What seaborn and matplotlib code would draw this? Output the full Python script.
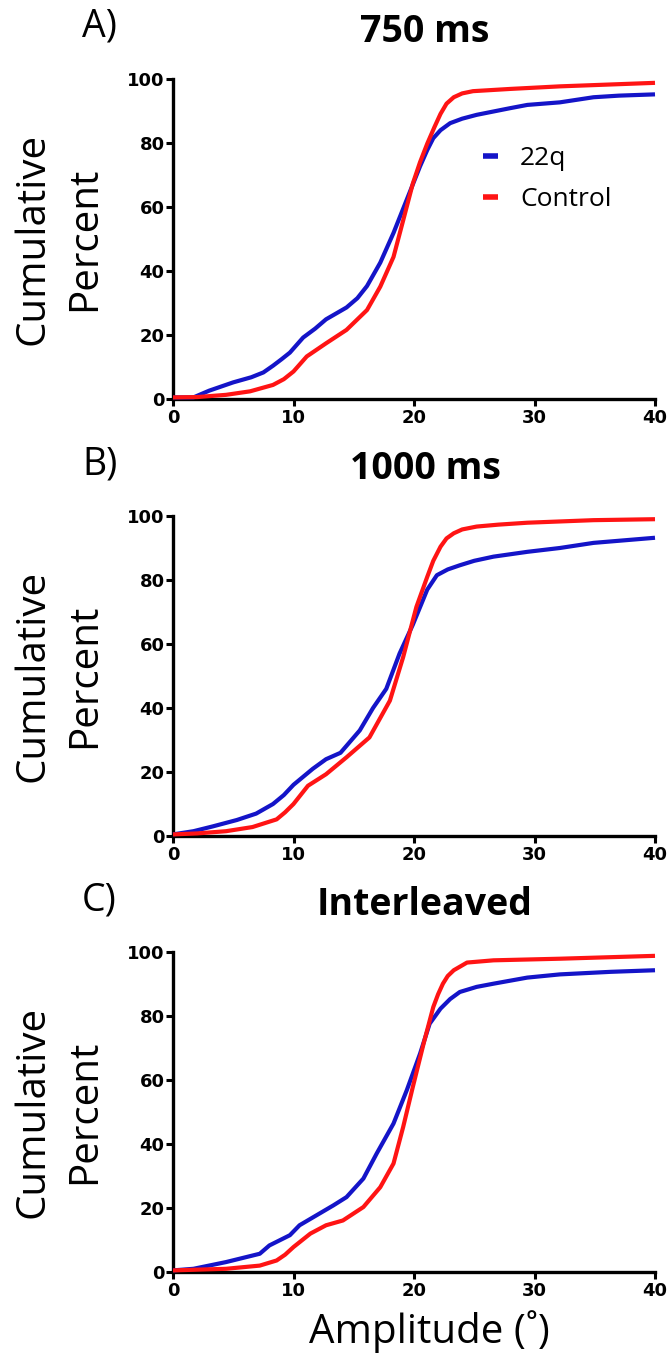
import numpy as np
import pandas as pd
import matplotlib
matplotlib.use("Agg")
import matplotlib.pyplot as plt
import seaborn as sns

# Cumulative distributions of saccade amplitude, one panel per condition
panel_titles = ["750 ms", "1000 ms", "Interleaved"]
panel_letters = ["A)", "B)", "C)"]
groups = ["22q", "Control"]

# 750 ms
a_22q_x = [0, 1.7, 3.0, 5.0, 6.5, 7.5, 8.3, 9.0, 9.7, 10.8, 11.8, 12.7, 14.4, 15.3, 16.1, 17.2,
           18.3, 19.4, 20.5, 21.1, 21.6, 22.2, 23.0, 24.0, 25.2, 28.0, 29.4, 32.1, 34.9, 37.0, 40.0]
a_22q_y = [0.5, 0.5, 2.6, 5.2, 6.8, 8.3, 10.4, 12.4, 14.5, 19.2, 22.0, 24.9, 28.6, 31.5, 35.3, 42.6,
           51.9, 62.3, 72.7, 77.8, 81.5, 84.0, 86.2, 87.6, 88.8, 90.9, 91.9, 92.7, 94.3, 94.8, 95.2]
a_ctl_x = [0, 2.0, 4.4, 6.4, 8.3, 9.2, 10.0, 11.1, 12.7, 14.4, 16.1, 17.2, 18.3, 19.1, 19.9,
           20.5, 21.1, 21.7, 22.2, 22.7, 23.3, 24.0, 24.9, 28.0, 32.1, 40.0]
a_ctl_y = [0.5, 0.6, 1.3, 2.4, 4.4, 6.2, 8.6, 13.3, 17.4, 21.6, 27.8, 35.1, 44.4, 55.8, 67.3,
           74.0, 79.8, 85.0, 89.1, 92.3, 94.3, 95.5, 96.2, 96.9, 97.7, 98.8]

# 1000 ms
b_22q_x = [0, 1.7, 3.3, 5.3, 6.9, 8.3, 9.2, 10.0, 11.6, 12.7, 13.9, 15.5, 16.6, 17.7, 18.8,
           19.9, 20.5, 21.1, 21.9, 22.8, 23.8, 25.0, 26.6, 29.4, 32.1, 34.9, 40.0]
b_22q_y = [0.5, 1.5, 3.0, 5.0, 7.0, 10.0, 12.8, 16.0, 21.0, 24.0, 26.0, 33.0, 40.0, 46.0, 57.0,
           66.0, 71.5, 77.0, 81.5, 83.3, 84.6, 86.0, 87.3, 88.8, 90.0, 91.6, 93.2]
b_ctl_x = [0, 2.0, 4.4, 6.6, 8.6, 9.3, 10.0, 11.2, 12.7, 14.4, 16.3, 18.0, 19.1, 20.2, 21.1,
           21.6, 22.2, 22.7, 23.3, 24.0, 25.2, 27.0, 29.4, 34.9, 40.0]
b_ctl_y = [0.5, 0.8, 1.5, 2.8, 5.2, 7.4, 10.0, 15.7, 19.3, 24.6, 30.8, 42.3, 55.9, 71.6, 81.0,
           86.0, 90.4, 93.0, 94.6, 95.8, 96.7, 97.3, 97.9, 98.7, 99.0]

# Interleaved
c_22q_x = [0, 1.7, 4.4, 7.2, 8.0, 9.7, 10.5, 11.9, 13.3, 14.4, 15.8, 16.9, 18.3, 19.4, 20.5,
           21.3, 22.2, 23.0, 23.8, 25.2, 26.6, 29.4, 32.1, 36.3, 40.0]
c_22q_y = [0.5, 1.0, 3.1, 5.7, 8.3, 11.5, 14.6, 17.7, 20.8, 23.4, 29.2, 37.0, 46.4, 56.8, 68.2,
           77.6, 82.3, 85.3, 87.5, 89.1, 90.1, 92.0, 93.0, 93.8, 94.3]
c_ctl_x = [0, 4.4, 7.2, 8.6, 9.3, 10.0, 11.4, 12.7, 14.1, 15.8, 17.2, 18.3, 19.1, 19.9, 20.8,
           21.6, 22.0, 22.4, 22.8, 23.3, 24.4, 26.6, 32.1, 40.0]
c_ctl_y = [0.5, 1.0, 2.0, 3.6, 5.4, 7.8, 12.0, 14.6, 16.1, 20.3, 26.5, 33.9, 45.3, 57.8, 71.4,
           82.8, 86.8, 90.1, 92.5, 94.3, 96.7, 97.4, 97.9, 98.8]

x_ticks = [0, 10, 20, 30, 40]
y_ticks = [0, 20, 40, 60, 80, 100]

series = [
    [(a_22q_x, a_22q_y), (a_ctl_x, a_ctl_y)],
    [(b_22q_x, b_22q_y), (b_ctl_x, b_ctl_y)],
    [(c_22q_x, c_22q_y), (c_ctl_x, c_ctl_y)],
]

frames = []
for p, pair in enumerate(series):
    for g, (xs, ys) in zip(groups, pair):
        frames.append(pd.DataFrame({"panel": p, "group": g, "amplitude": xs, "percent": ys}))
data = pd.concat(frames, ignore_index=True)

palette = {"22q": "#1414c8", "Control": "#ff1414"}

sns.set_style("ticks")
plt.rcParams["font.family"] = ["Open Sans", "DejaVu Sans"]
plt.rcParams["text.color"] = "black"

W, H = 670, 1364
fig = plt.figure(figsize=(W / 100, H / 100), dpi=100)

left_px, right_px = 173, 655
tops = [79, 516, 952]
plot_h = 320

def fx(px):
    return px / W

def fy(py):
    return 1 - py / H

tick_font = {"family": "DejaVu Sans", "weight": "bold", "size": 13}

for p in range(3):
    top = tops[p]
    ax = fig.add_axes([fx(left_px), fy(top + plot_h), fx(right_px) - fx(left_px), plot_h / H])
    sub = data[data["panel"] == p]
    sns.lineplot(data=sub, x="amplitude", y="percent", hue="group", hue_order=groups,
                 palette=palette, estimator=None, linewidth=3.0, ax=ax,
                 legend=(p == 0))
    for line in ax.lines:
        line.set_clip_on(False)
        line.set_zorder(5)
        line.set_solid_capstyle("butt")
        line.set_solid_joinstyle("round")

    ax.set_xlim(0, 40)
    ax.set_ylim(0, 100)
    ax.set_xticks(x_ticks)
    ax.set_yticks(y_ticks)
    ax.set_xticklabels([str(t) for t in x_ticks], fontdict=tick_font)
    ax.set_yticklabels([str(t) for t in y_ticks], fontdict=tick_font)
    ax.set_xlabel("")
    ax.set_ylabel("")
    sns.despine(ax=ax)
    for side in ("left", "bottom"):
        ax.spines[side].set_linewidth(2.4)
        ax.spines[side].set_color("black")
    ax.tick_params(axis="both", direction="out", length=5, width=2.2, color="black",
                   pad=1, labelcolor="black")
    ax.tick_params(axis="x", pad=2)
    ax.set_facecolor("white")

    if p == 0:
        leg = ax.legend(loc="upper left", bbox_to_anchor=((483 - left_px) / 482, (400 - 147) / 320),
                        frameon=False, fontsize=19, handlelength=0.55, handletextpad=0.85,
                        labelspacing=0.6, borderpad=0, borderaxespad=0)
        for h in leg.get_lines():
            h.set_linewidth(4)
        for t in leg.get_texts():
            t.set_color("black")

    fig.text(fx(82), fy(top - 42), panel_letters[p], fontsize=27, ha="left", va="baseline",
             color="black")
    fig.text(fx(425), fy(top - 37), panel_titles[p], fontsize=27, fontweight="bold",
             ha="center", va="baseline", color="black")
    fig.text(fx(59), fy(top + plot_h / 2), "Cumulative\nPercent", fontsize=29, rotation=90,
             ha="center", va="center", linespacing=1.35, multialignment="center", color="black")

fig.text(fx(429), fy(1332), "Amplitude (\u02da)", fontsize=29, ha="center", va="center",
         color="black")

fig.savefig("out.png", dpi=100, facecolor="white")
